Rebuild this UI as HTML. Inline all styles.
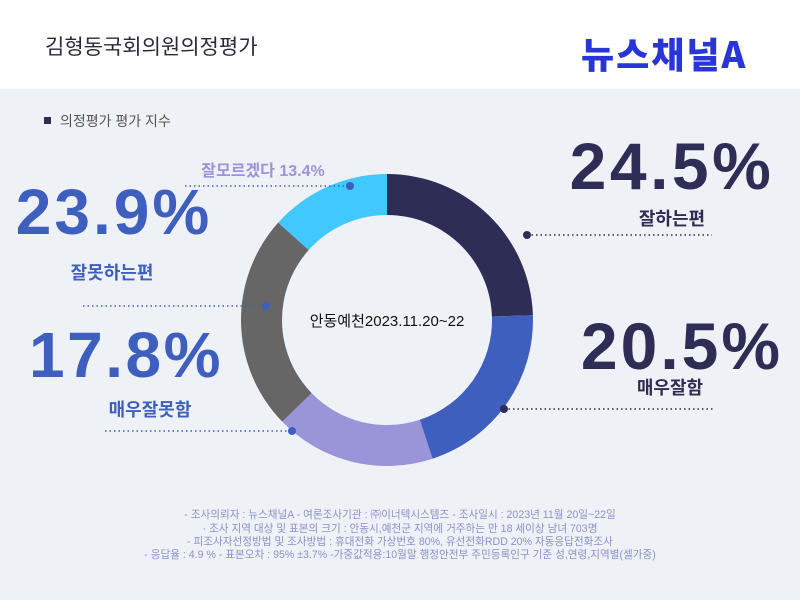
<!DOCTYPE html>
<html><head><meta charset="utf-8"><style>
body{margin:0;width:800px;height:600px;overflow:hidden;background:#eef1f5;font-family:"Liberation Sans","Noto Sans CJK KR",sans-serif}
</style></head><body>
<svg width="800" height="600" viewBox="0 0 800 600" style="display:block">
<rect x="0" y="0" width="800" height="89" fill="#ffffff"/>
<text x="45" y="54" font-size="21" fill="#2a2a3a" font-family="Noto Sans CJK KR, sans-serif">김형동국회의원의정평가</text>
<text x="581" y="68" font-size="36" font-weight="900" fill="#2a35d8" letter-spacing="2" font-family="Noto Sans CJK KR, sans-serif">뉴스채널A</text>
<rect x="44" y="117" width="7" height="7" fill="#2d2d55"/>
<text x="60" y="126" font-size="14" fill="#555">의정평가 평가 지수</text>
<g id="donut"></g>
<text x="387" y="326" font-size="15" text-anchor="middle" fill="#111">안동예천2023.11.20~22</text>
<g id="labels"></g>
<g font-size="10.6" fill="#8a92c8" text-anchor="middle">
<text x="400" y="518">- 조사의뢰자 : 뉴스채널A  - 여론조사기관 : ㈜이너텍시스템즈 - 조사일시 : 2023년 11월 20일~22일</text>
<text x="400" y="532">· 조사 지역 대상 및 표본의 크기 : 안동시,예천군 지역에 거주하는 만 18 세이상 남녀 703명</text>
<text x="400" y="545">- 피조사자선정방법 및 조사방법 : 휴대전화 가상번호 80%, 유선전화RDD 20% 자동응답전화조사</text>
<text x="400" y="558">- 응답율 :  4.9 %   - 표본오차 : 95%  ±3.7%    -가중값적용:10월말 행정안전부 주민등록인구 기준 성,연령,지역별(셀가중)</text>
</g>
</svg>
<script>
const categories=["잘하는편","매우잘함","매우잘못함","잘못하는편","잘모르겠다"];
const values=[24.5,20.5,17.8,23.9,13.4];
const valueLabels=["24.5%","20.5%","17.8%","23.9%","13.4%"];
const colors=["#2d2d55","#3f5fbf","#9a94d9","#666666","#40c8ff"];
const NS="http://www.w3.org/2000/svg";
const cx=387,cy=320,R=146,r=105;
const total=values.reduce((a,b)=>a+b,0);
function pt(rad,a){return [cx+rad*Math.sin(a),cy-rad*Math.cos(a)];}
const g=document.getElementById('donut');
let acc=0;
values.forEach((v,i)=>{
 const a0=acc/total*2*Math.PI;acc+=v;const a1=acc/total*2*Math.PI;
 const lg=(a1-a0)>Math.PI?1:0;
 const p1=pt(R,a0),p2=pt(R,a1),p3=pt(r,a1),p4=pt(r,a0);
 const p=document.createElementNS(NS,'path');
 p.setAttribute('d',`M${p1}A${R},${R} 0 ${lg} 1 ${p2}L${p3}A${r},${r} 0 ${lg} 0 ${p4}Z`);
 p.setAttribute('fill',colors[i]);
 
 
 g.appendChild(p);
});
const L=document.getElementById('labels');
function t(x,y,s,size,fill,anchor,weight,name,ls){
 const e=document.createElementNS(NS,'text');
 e.setAttribute('x',x);e.setAttribute('y',y);e.setAttribute('font-size',size);e.setAttribute('fill',fill);
 e.setAttribute('text-anchor',anchor);e.setAttribute('font-weight',weight);e.textContent=s;
 if(ls)e.setAttribute('letter-spacing',ls);
 
 
 L.appendChild(e);}
function line(x1,x2,y,dx,col,name){
 const l=document.createElementNS(NS,'line');
 l.setAttribute('x1',x1);l.setAttribute('x2',x2);l.setAttribute('y1',y);l.setAttribute('y2',y);
 l.setAttribute('stroke',col);l.setAttribute('stroke-width','1.5');l.setAttribute('stroke-dasharray','1.5 3');
 
 
 L.appendChild(l);
 const c=document.createElementNS(NS,'circle');
 c.setAttribute('cx',dx);c.setAttribute('cy',y);c.setAttribute('r',4);c.setAttribute('fill',col);
 
 
 L.appendChild(c);}
const navy="#2d2d55",blue="#3f5fbf",lav="#9a94d9";
t(672,189,valueLabels[0],66,navy,'middle',900,'value-label-0',3.5);
t(672,225,categories[0],18,navy,'middle',700,'category-label-0');
line(527,712,235,527,navy,'leader-0');
t(682,369,valueLabels[1],66,navy,'middle',900,'value-label-1',3);
t(670,394,categories[1],18,navy,'middle',700,'category-label-1');
line(504,715,409,504,navy,'leader-1');
t(126,377,valueLabels[2],64,blue,'middle',900,'value-label-2',2.5);
t(150,416,categories[2],18,blue,'middle',700,'category-label-2');
line(105,292,431,292,blue,'leader-2');
t(114,234,valueLabels[3],64,blue,'middle',900,'value-label-3',3);
t(112,279,categories[3],18,blue,'middle',700,'category-label-3');
line(83,266,306,266,blue,'leader-3');
t(263,176,categories[4]+' '+valueLabels[4],16,lav,'middle',700,'category-label-4');
line(185,350,186,350,blue,'leader-4');
</script>
</body></html>
